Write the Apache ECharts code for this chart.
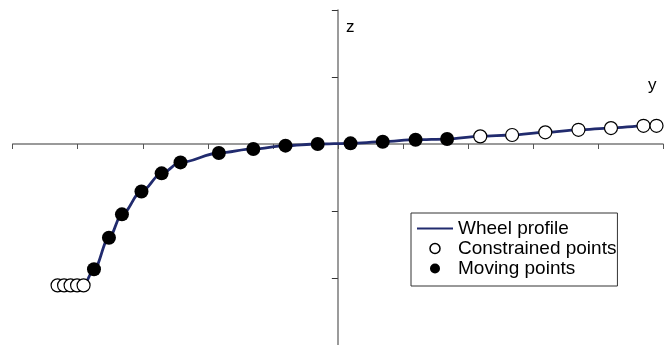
<!DOCTYPE html>
<html>
<head>
<meta charset="utf-8">
<script src="https://cdn.jsdelivr.net/npm/echarts@6/dist/echarts.min.js"></script>
<style>html,body{margin:0;padding:0;background:#fff;}#c{width:671px;height:345px;}</style>
</head>
<body>
<div id="c"></div>
<script>
// Constrained points (open circles): [y, z]
const constrainedY = [-43.1, -42.1, -41.1, -40.1, -39.1, 21.9, 26.8, 31.9, 37.0, 42.0, 47.0, 49.0];
const constrainedZ = [-21.1, -21.1, -21.1, -21.1, -21.1, 1.14, 1.34, 1.74, 2.12, 2.38, 2.72, 2.72];
// Moving points (filled circles)
const movingY = [-37.5, -35.2, -33.2, -30.2, -27.1, -24.2, -18.3, -13.0, -8.05, -3.1, 1.95, 6.9, 11.95, 16.8];
const movingZ = [-18.7, -14.0, -10.5, -7.08, -4.38, -2.75, -1.34, -0.74, -0.25, 0.0, 0.1, 0.34, 0.64, 0.74];
// Axis ticks
const axisMinY = -50, axisMaxY = 50, axisStepY = 10;
const axisMinZ = -30, axisMaxZ = 20, axisStepZ = 10;

const zip = (a, b) => a.map((v, i) => [v, b[i]]);
const constrainedPts = zip(constrainedY, constrainedZ);
const movingPts = zip(movingY, movingZ);
const profilePts = constrainedPts.concat(movingPts).sort((p, q) => p[0] - q[0]);

const font = "'Liberation Sans', Arial, sans-serif";
const chart = echarts.init(document.getElementById('c'), null, {renderer: 'canvas'});
chart.setOption({
  animation: false,
  backgroundColor: '#fff',
  grid: {left: 12.7, right: 8, top: 10, height: 336.7},
  xAxis: {
    type: 'value', min: axisMinY, max: axisMaxY, interval: axisStepY,
    axisLine: {onZero: true, lineStyle: {color: '#7a7a7a', width: 1.5}},
    axisTick: {show: true, length: 5, lineStyle: {color: '#555', width: 1}},
    axisLabel: {show: false},
    splitLine: {show: false}
  },
  yAxis: {
    type: 'value', min: axisMinZ, max: axisMaxZ, interval: axisStepZ,
    axisLine: {show: true, onZero: true, lineStyle: {color: '#7a7a7a', width: 1.5}},
    axisTick: {show: true, length: 6, lineStyle: {color: '#333', width: 1}},
    axisLabel: {show: false},
    splitLine: {show: false}
  },
  legend: {
    orient: 'vertical', left: 411, top: 213,
    borderColor: '#333', borderWidth: 1,
    padding: [6, 1, 8, 5], itemGap: 1,
    itemWidth: 36, itemHeight: 10,
    textStyle: {fontSize: 19, fontFamily: font, color: '#000'},
    data: [
      {name: 'Wheel profile', itemStyle: {color: 'rgba(0,0,0,0)', borderColor: 'rgba(0,0,0,0)', borderWidth: 0}},
      {name: 'Constrained points', itemStyle: {borderWidth: 1.5}},
      {name: 'Moving points'}
    ]
  },
  graphic: [
    {type: 'text', left: 346, top: 19, style: {text: 'z', font: '17px ' + font, fill: '#000'}},
    {type: 'text', left: 648, top: 77, style: {text: 'y', font: '17px ' + font, fill: '#000'}}
  ],
  series: [
    {
      name: 'Wheel profile', type: 'line', data: profilePts,
      showSymbol: false, symbol: 'none', smooth: 0.35, smoothMonotone: 'x',
      lineStyle: {color: '#212b6e', width: 2.8}, z: 1
    },
    {
      name: 'Constrained points', type: 'scatter', data: constrainedPts,
      symbol: 'circle', symbolSize: 13,
      itemStyle: {color: '#fff', borderColor: '#000', borderWidth: 1.2, opacity: 1}, z: 3
    },
    {
      name: 'Moving points', type: 'scatter', data: movingPts,
      symbol: 'circle', symbolSize: 14,
      itemStyle: {color: '#000', opacity: 1}, z: 3
    }
  ]
});
</script>
</body>
</html>
